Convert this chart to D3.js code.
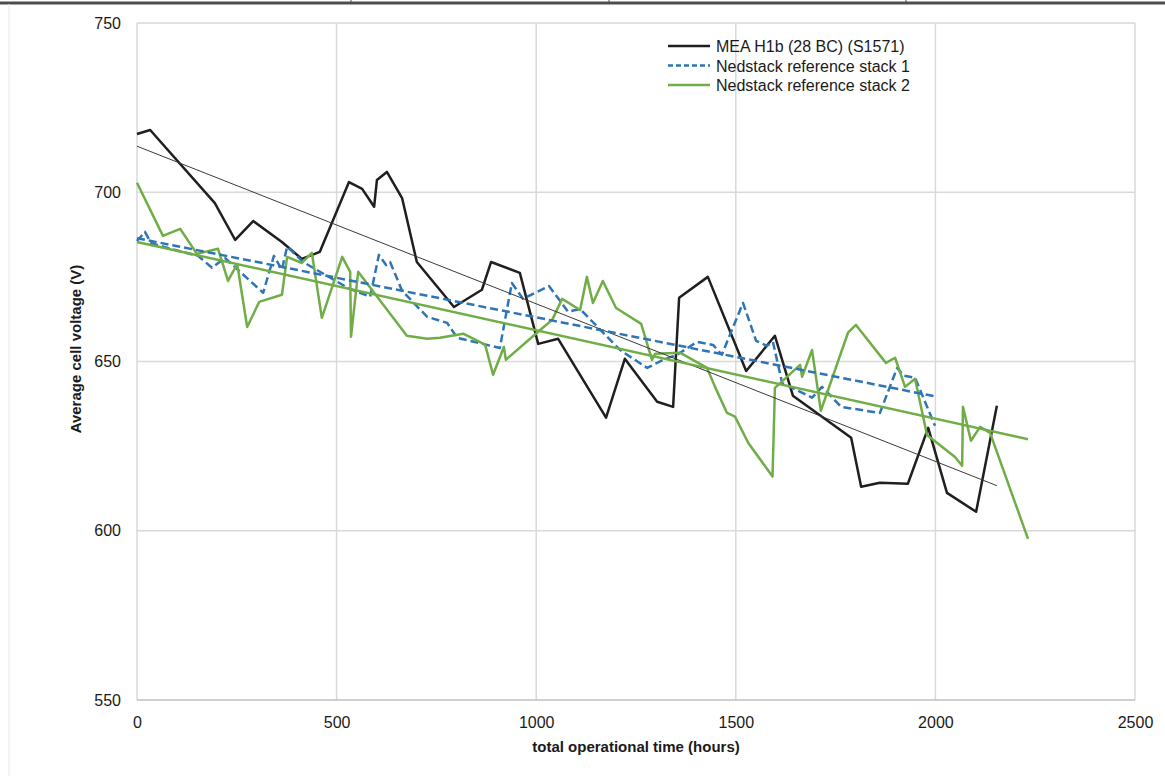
<!DOCTYPE html>
<html>
<head>
<meta charset="utf-8">
<script src="https://cdn.jsdelivr.net/npm/d3@7"></script>
<style>
  html, body { margin: 0; padding: 0; background: #fff; }
  svg { display: block; font-family: "Liberation Sans", Arial, sans-serif; }
</style>
</head>
<body>
<svg id="chart" width="1165" height="776"></svg>
<script>
// series: hours / volts
const meaHours = [0,33,195,246,291,363,413,458,531,564,594,601,626,664,701,794,864,887,959,1005,1055,1175,1222,1303,1343,1358,1430,1526,1598,1643,1789,1814,1861,1931,1982,2029,2102,2154]
const meaVolts = [717.2,718.4,696.8,685.9,691.5,685.3,680.3,682.4,703.0,701.0,695.7,703.6,706.0,698.3,679.4,666.1,671.2,679.4,676.2,655.2,656.7,633.4,650.8,638.1,636.6,668.8,675.0,647.2,657.6,639.9,627.5,613.0,614.2,613.9,630.4,611.2,605.6,636.9]

const stack1Hours = [0,20,35,83,153,188,220,316,343,363,376,416,529,584,606,624,634,664,727,777,802,909,939,967,1032,1080,1110,1210,1278,1318,1353,1403,1443,1465,1518,1551,1578,1593,1616,1691,1716,1764,1861,1904,1921,1949,1999]
const stack1Volts = [685.6,688.3,685.0,683.3,681.2,677.7,680.6,670.3,681.2,677.1,683.9,679.4,671.7,669.1,681.5,678.5,679.4,670.9,663.2,661.4,657.0,654.0,673.2,668.5,672.3,664.7,665.5,653.4,648.1,650.5,652.0,655.8,654.9,652.0,667.3,656.1,654.6,655.8,643.7,639.3,642.5,636.6,634.8,648.1,645.8,645.2,631.0]

const stack2Hours = [0,65,108,150,203,228,251,276,306,363,376,413,438,463,514,534,536,554,676,727,759,817,872,892,919,924,1010,1040,1065,1110,1127,1142,1167,1200,1263,1290,1298,1360,1428,1448,1478,1498,1531,1592,1598,1661,1666,1691,1713,1781,1801,1876,1899,1924,1949,1979,2049,2067,2069,2089,2112,2137,2232]
const stack2Volts = [702.8,687.1,689.2,681.8,683.3,673.8,678.8,660.2,667.6,669.7,680.9,679.1,682.1,662.9,680.9,676.5,657.3,676.5,657.6,656.7,657.0,658.2,655.0,646.1,654.3,650.5,659.3,662.3,668.5,665.2,675.0,667.3,673.8,665.8,661.1,650.5,652.3,652.6,648.1,642.5,634.8,633.7,626.0,616.0,642.2,649.0,645.5,653.4,635.4,658.5,660.8,649.6,651.1,642.5,644.9,628.3,621.8,619.2,636.6,626.6,630.7,628.9,597.6]

const seriesNames = ["MEA H1b (28 BC) (S1571)", "Nedstack reference stack 1", "Nedstack reference stack 2"]
const xTicks = [0,500,1000,1500,2000,2500]
const yTicks = [550,600,650,700,750]

const svg = d3.select("#chart")
const x = d3.scaleLinear().domain([0, 2500]).range([137, 1135])
const y = d3.scaleLinear().domain([550, 750]).range([700, 23])

const zip = (hs, vs) => hs.map((h, i) => ({h: h, v: vs[i]}))

// least squares trend, like the spreadsheet's linear trendline
const trend = pts => {
  const n = pts.length
  const mx = d3.mean(pts, p => p.h), my = d3.mean(pts, p => p.v)
  const sxy = d3.sum(pts, p => (p.h - mx) * (p.v - my))
  const sxx = d3.sum(pts, p => (p.h - mx) * (p.h - mx))
  const b = sxy / sxx, a = my - b * mx
  const h0 = pts[0].h, h1 = pts[n - 1].h
  return [{h: h0, v: a + b * h0}, {h: h1, v: a + b * h1}]
}

const series = [
  {name: seriesNames[0], pts: zip(meaHours, meaVolts), color: "#1f1f1f", width: 2.5, dash: null, trendWidth: 1, trendColor: "#3a3a3a"},
  {name: seriesNames[1], pts: zip(stack1Hours, stack1Volts), color: "#2e75b6", width: 2.5, dash: "8,4", trendWidth: 2.5, trendColor: "#2e75b6"},
  {name: seriesNames[2], pts: zip(stack2Hours, stack2Volts), color: "#70ad47", width: 2.5, dash: null, trendWidth: 2.5, trendColor: "#70ad47"}
]

// screenshot frame bits
svg.append("line").attr("x1", 0).attr("x2", 1165).attr("y1", 3).attr("y2", 3)
  .attr("stroke", "#4d4d4d").attr("stroke-width", 3)
;[351, 609, 906].forEach(px => {
  svg.append("line").attr("x1", px).attr("x2", px).attr("y1", 0).attr("y2", 4)
    .attr("stroke", "#4d4d4d").attr("stroke-width", 1)
})
svg.append("line").attr("x1", 9).attr("x2", 9).attr("y1", 4).attr("y2", 776)
  .attr("stroke", "#e6e6e6").attr("stroke-width", 1)

// grid
const grid = svg.append("g")
grid.selectAll(".vgrid").data(xTicks).enter().append("line")
  .attr("x1", d => x(d)).attr("x2", d => x(d))
  .attr("y1", y(750)).attr("y2", y(550))
  .attr("stroke", "#d9d9d9").attr("stroke-width", 1.5)
grid.selectAll(".hgrid").data(yTicks).enter().append("line")
  .attr("x1", x(0)).attr("x2", x(2500))
  .attr("y1", d => y(d)).attr("y2", d => y(d))
  .attr("stroke", d => d === 550 ? "#bfbfbf" : "#d9d9d9").attr("stroke-width", 1.5)

// axes (labels only, lines come from grid)
const xAxis = svg.append("g").attr("transform", `translate(0, ${y(550)})`)
  .call(d3.axisBottom(x).tickValues(xTicks).tickSize(0).tickPadding(17).tickFormat(d3.format("d")))
xAxis.select(".domain").remove()
xAxis.selectAll("text").attr("font-size", 16).attr("fill", "#1a1a1a").attr("font-family", "Liberation Sans, Arial, sans-serif")

const yAxis = svg.append("g").attr("transform", `translate(${x(0)}, 0)`)
  .call(d3.axisLeft(y).tickValues(yTicks).tickSize(0).tickPadding(16).tickFormat(d3.format("d")))
yAxis.select(".domain").remove()
yAxis.selectAll("text").attr("font-size", 16).attr("fill", "#1a1a1a").attr("font-family", "Liberation Sans, Arial, sans-serif")

svg.append("text").attr("x", (x(0) + x(2500)) / 2).attr("y", 752)
  .attr("text-anchor", "middle").attr("font-size", 15).attr("font-weight", "bold").attr("fill", "#1a1a1a")
  .text("total operational time (hours)")
svg.append("text").attr("transform", "translate(81, 349) rotate(-90)")
  .attr("text-anchor", "middle").attr("font-size", 15).attr("font-weight", "bold").attr("fill", "#1a1a1a")
  .text("Average cell voltage (V)")

// data lines
const line = d3.line().x(p => x(p.h)).y(p => y(p.v))
const plot = svg.append("g")
series.forEach(s => {
  plot.append("path").datum(s.pts)
    .attr("d", line).attr("fill", "none")
    .attr("stroke", s.color).attr("stroke-width", s.width)
    .attr("stroke-linejoin", "round")
    .attr("stroke-dasharray", s.dash)
})
series.forEach(s => {
  plot.append("path").datum(trend(s.pts))
    .attr("d", line).attr("fill", "none")
    .attr("stroke", s.trendColor).attr("stroke-width", s.trendWidth)
    .attr("stroke-dasharray", s.dash)
})

// legend
const legend = svg.append("g").attr("transform", "translate(668, 46)")
series.forEach((s, i) => {
  const row = legend.append("g").attr("transform", `translate(0, ${i * 19.5})`)
  row.append("line").attr("x1", 0).attr("x2", 42).attr("y1", 0).attr("y2", 0)
    .attr("stroke", s.color).attr("stroke-width", s.width).attr("stroke-dasharray", s.dash ? "5,3" : null)
  row.append("text").attr("x", 48).attr("y", 6).attr("font-size", 16).attr("fill", "#1a1a1a")
    .text(s.name)
})
</script>
</body>
</html>
